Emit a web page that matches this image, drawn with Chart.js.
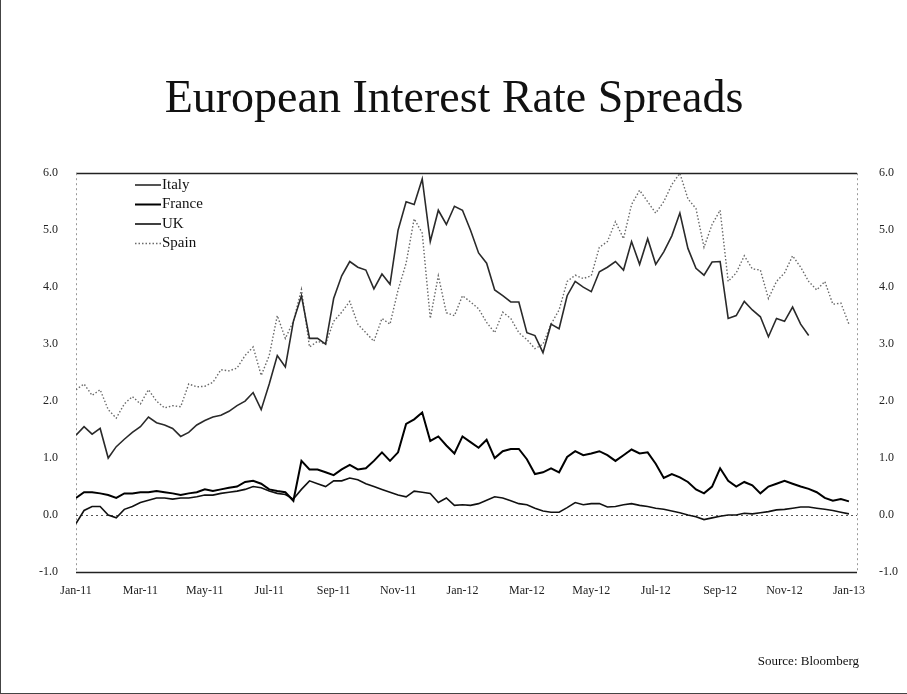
<!DOCTYPE html>
<html>
<head>
<script src="https://cdn.jsdelivr.net/npm/chart.js@4.4.1/dist/chart.umd.min.js"></script>
<style>
  body { margin: 0; background: #fff; }
  #wrap { position: relative; width: 907px; height: 694px; box-sizing: border-box; border-left: 1px solid #444; border-bottom: 1px solid #444; }
</style>
</head>
<body>
<div id="wrap"><canvas id="spreadChart"></canvas></div>

<script>
// one point every quarter month, Jan-11 .. Jan-13
var tickLabels = ["Jan-11","Mar-11","May-11","Jul-11","Sep-11","Nov-11","Jan-12","Mar-12","May-12","Jul-12","Sep-12","Nov-12","Jan-13"];
var quarterMonths = [];
for (var i = 0; i <= 96; i++) quarterMonths.push(i);

var italy = [1.40,1.55,1.42,1.52,1.0,1.2,1.33,1.45,1.55,1.72,
  1.62,1.58,1.52,1.38,1.45,1.58,1.66,1.72,1.75,1.82,
  1.92,2.0,2.15,1.85,2.3,2.8,2.6,3.4,3.85,3.1,
  3.1,3.0,3.8,4.2,4.45,4.35,4.3,3.97,4.23,4.05,
  5.0,5.5,5.45,5.9,4.8,5.35,5.1,5.42,5.35,5.0,
  4.6,4.42,3.95,3.85,3.74,3.74,3.2,3.15,2.85,3.35,
  3.27,3.85,4.1,4.0,3.92,4.27,4.35,4.45,4.3,4.8,
  4.4,4.85,4.4,4.62,4.9,5.3,4.68,4.33,4.21,4.44,
  4.45,3.45,3.5,3.75,3.6,3.48,3.13,3.45,3.4,3.65,
  3.35,3.15,null,null,null,null,null];

var france = [0.3,0.4,0.4,0.38,0.35,0.3,0.38,0.38,0.4,0.4,
  0.42,0.4,0.38,0.35,0.38,0.4,0.45,0.42,0.45,0.48,
  0.5,0.58,0.6,0.55,0.45,0.42,0.4,0.25,0.95,0.8,
  0.8,0.75,0.7,0.8,0.88,0.8,0.82,0.95,1.1,0.95,
  1.1,1.6,1.68,1.8,1.3,1.38,1.22,1.08,1.38,1.28,
  1.18,1.32,1.0,1.12,1.16,1.16,0.98,0.72,0.75,0.82,
  0.75,1.02,1.12,1.05,1.08,1.12,1.05,0.95,1.05,1.15,
  1.08,1.1,0.9,0.65,0.72,0.66,0.58,0.45,0.38,0.5,
  0.82,0.6,0.5,0.58,0.52,0.38,0.5,0.55,0.6,0.55,
  0.5,0.46,0.4,0.3,0.25,0.28,0.24];

var uk = [-0.15,0.08,0.15,0.15,0.0,-0.05,0.1,0.15,0.22,0.26,
  0.3,0.3,0.28,0.3,0.3,0.32,0.35,0.35,0.38,0.4,
  0.42,0.45,0.5,0.48,0.42,0.38,0.36,0.28,0.45,0.6,
  0.55,0.5,0.6,0.6,0.65,0.62,0.55,0.5,0.45,0.4,
  0.35,0.32,0.42,0.4,0.38,0.22,0.3,0.17,0.18,0.17,
  0.2,0.26,0.32,0.3,0.25,0.2,0.18,0.12,0.07,0.05,
  0.05,0.13,0.22,0.18,0.2,0.2,0.14,0.15,0.18,0.2,
  0.17,0.15,0.12,0.1,0.07,0.04,0.0,-0.03,-0.08,-0.05,
  -0.02,0.0,0.0,0.03,0.02,0.04,0.06,0.09,0.1,0.12,
  0.14,0.14,0.12,0.1,0.08,0.05,0.02];

var spain = [2.2,2.3,2.1,2.2,1.85,1.7,1.95,2.08,1.95,2.2,
  2.0,1.88,1.92,1.9,2.3,2.25,2.26,2.33,2.55,2.53,
  2.58,2.8,2.95,2.45,2.8,3.5,3.1,3.4,3.96,2.95,
  3.05,3.0,3.4,3.56,3.75,3.35,3.2,3.05,3.45,3.35,
  3.95,4.42,5.2,4.95,3.45,4.2,3.55,3.5,3.85,3.74,
  3.62,3.38,3.2,3.56,3.45,3.2,3.08,2.92,3.0,3.35,
  3.6,4.1,4.21,4.15,4.2,4.7,4.8,5.15,4.85,5.45,
  5.7,5.5,5.3,5.5,5.8,6.0,5.55,5.38,4.7,5.1,
  5.35,4.1,4.25,4.55,4.32,4.3,3.8,4.1,4.25,4.55,
  4.35,4.1,3.95,4.1,3.7,3.72,3.35];

var serif = "'Liberation Serif', 'DejaVu Serif', serif";

// top/bottom rules, dotted zero line and dotted side axes
var frameLines = {
  id: 'frameLines',
  beforeDatasetsDraw: function(chart) {
    var ctx = chart.ctx, a = chart.chartArea, y = chart.scales.y;
    ctx.save();
    ctx.strokeStyle = '#222';
    ctx.lineWidth = 1.5;
    [6, -1].forEach(function(v) {
      var py = Math.round(y.getPixelForValue(v)) + 0.5;
      ctx.beginPath(); ctx.moveTo(a.left, py); ctx.lineTo(a.right, py); ctx.stroke();
    });
    ctx.setLineDash([2, 3]);
    ctx.lineWidth = 1;
    ctx.strokeStyle = '#555';
    var pz = Math.round(y.getPixelForValue(0)) + 0.5;
    ctx.beginPath(); ctx.moveTo(a.left, pz); ctx.lineTo(a.right, pz); ctx.stroke();
    ctx.strokeStyle = '#999';
    [a.left, a.right].forEach(function(px) {
      ctx.beginPath(); ctx.moveTo(px + 0.5, a.top); ctx.lineTo(px + 0.5, a.bottom); ctx.stroke();
    });
    ctx.restore();
  }
};

// legend inside the plot, plus the source note
var notes = {
  id: 'notes',
  afterDraw: function(chart) {
    var ctx = chart.ctx;
    ctx.save();
    ctx.font = "15px " + serif;
    ctx.fillStyle = '#111';
    ctx.textBaseline = 'middle';
    chart.data.datasets.forEach(function(ds, k) {
      var ly = 185 + k * 19.5;
      ctx.strokeStyle = ds.borderColor;
      ctx.lineWidth = ds.borderWidth;
      ctx.setLineDash(ds.borderDash || []);
      ctx.beginPath(); ctx.moveTo(134, ly); ctx.lineTo(160, ly); ctx.stroke();
      ctx.fillText(ds.label, 161, ly);
    });
    ctx.font = "13px " + serif;
    ctx.textAlign = 'right';
    ctx.fillText("Source: Bloomberg", 858, 662);
    ctx.restore();
  }
};

var yTicks = {
  font: { family: serif, size: 12 },
  color: '#222',
  stepSize: 1,
  callback: function(v) { return v.toFixed(1); }
};

var spreadChart = new Chart(document.getElementById('spreadChart').getContext('2d'), {
  type: 'line',
  data: {
    labels: quarterMonths,
    datasets: [
      { label: 'Italy', data: italy, borderColor: '#2a2a2a', borderWidth: 1.6 },
      { label: 'France', data: france, borderColor: '#000', borderWidth: 2 },
      { label: 'UK', data: uk, borderColor: '#111', borderWidth: 1.6 },
      { label: 'Spain', data: spain, borderColor: '#6a6a6a', borderWidth: 1.4, borderDash: [1.5, 2] }
    ]
  },
  options: {
    responsive: true,
    maintainAspectRatio: false,
    animation: false,
    elements: { point: { radius: 0 }, line: { tension: 0, spanGaps: false } },
    layout: { padding: { left: 0, right: 0, top: 0, bottom: 0 } },
    plugins: {
      legend: { display: false },
      tooltip: { enabled: false },
      title: {
        display: true,
        text: 'European Interest Rate Spreads',
        color: '#111',
        font: { family: serif, size: 46, weight: 'normal' },
        padding: { top: 72, bottom: 46 }
      }
    },
    scales: {
      x: {
        type: 'linear',
        min: 0,
        max: 97,
        grid: { display: false },
        border: { display: false },
        ticks: {
          stepSize: 8,
          includeBounds: false,
          maxRotation: 0,
          autoSkip: false,
          padding: 4,
          font: { family: serif, size: 12 },
          color: '#222',
          callback: function(v) { return tickLabels[v / 8] || ''; }
        },
        afterFit: function(s) { s.height = 121; }
      },
      y: {
        position: 'left',
        min: -1, max: 6,
        grid: { display: false },
        border: { display: false },
        ticks: Object.assign({ padding: 10 }, yTicks),
        afterFit: function(s) { s.width = 75; }
      },
      y2: {
        position: 'right',
        min: -1, max: 6,
        grid: { display: false },
        border: { display: false },
        ticks: Object.assign({ padding: 14 }, yTicks),
        afterFit: function(s) { s.width = 50; }
      }
    }
  },
  plugins: [frameLines, notes]
});
</script>
</body>
</html>
